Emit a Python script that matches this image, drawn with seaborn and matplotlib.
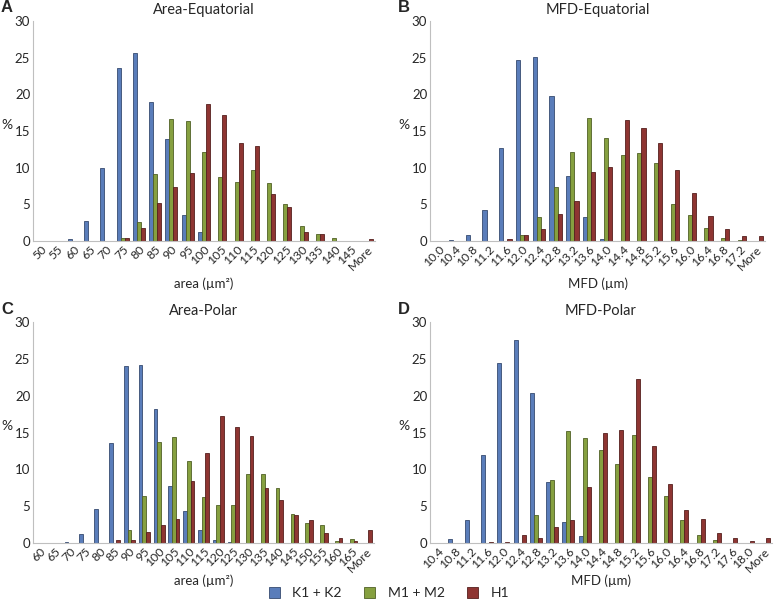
import numpy as np
import pandas as pd
import matplotlib
matplotlib.use("Agg")
import matplotlib.pyplot as plt
import matplotlib.colors as mcolors
from matplotlib.patches import Patch
import seaborn as sns

groups = ["K1 + K2", "M1 + M2", "H1"]
colors = ["#5A7DBA", "#86A040", "#8E3532"]

# Panel A: Area - Equatorial
cat_a = [str(v) for v in range(50, 150, 5)] + ["More"]
a_k = [0, 0, 0.3, 2.7, 9.9, 23.6, 25.7, 19.0, 13.9, 3.6, 1.2, 0, 0, 0, 0, 0, 0, 0, 0, 0, 0]
a_m = [0, 0, 0, 0, 0, 0.4, 2.6, 9.1, 16.6, 16.4, 12.1, 8.7, 8.0, 9.7, 7.9, 5.0, 2.0, 1.0, 0.4, 0, 0]
a_h = [0, 0, 0, 0, 0, 0.4, 1.8, 5.2, 7.4, 9.3, 18.7, 17.2, 13.4, 13.0, 6.4, 4.7, 1.2, 0.9, 0, 0, 0.3]

# Panel B: MFD - Equatorial
cat_b = ["10.0", "10.4", "10.8", "11.2", "11.6", "12.0", "12.4", "12.8", "13.2", "13.6",
         "14.0", "14.4", "14.8", "15.2", "15.6", "16.0", "16.4", "16.8", "17.2", "More"]
b_k = [0, 0.1, 0.8, 4.2, 12.7, 24.7, 25.1, 19.8, 8.9, 3.3, 0.3, 0, 0, 0, 0, 0, 0, 0, 0, 0]
b_m = [0, 0, 0, 0, 0, 0.8, 3.3, 7.4, 12.1, 16.8, 14.0, 11.7, 12.0, 10.6, 5.0, 3.6, 1.8, 0.4, 0.1, 0]
b_h = [0, 0, 0, 0, 0.25, 0.8, 1.7, 3.7, 5.5, 9.4, 10.1, 16.5, 15.4, 13.3, 9.7, 6.5, 3.4, 1.6, 0.7, 0.7]

# Panel C: Area - Polar
cat_c = [str(v) for v in range(60, 170, 5)] + ["More"]
c_k = [0, 0, 0.1, 1.2, 4.6, 13.6, 24.0, 24.2, 18.2, 7.8, 4.3, 1.7, 0.35, 0.1, 0, 0, 0, 0, 0, 0, 0, 0, 0]
c_m = [0, 0, 0, 0, 0, 0, 1.8, 6.4, 13.7, 14.4, 11.1, 6.2, 5.1, 5.2, 9.4, 9.4, 7.4, 4.0, 2.7, 2.5, 0.3, 0.6, 0]
c_h = [0, 0, 0, 0, 0, 0.4, 0.4, 1.5, 2.4, 3.3, 8.4, 12.2, 17.3, 15.8, 14.5, 7.5, 5.8, 3.8, 3.1, 1.3, 0.7, 0.3, 1.8]

# Panel D: MFD - Polar
cat_d = ["10.4", "10.8", "11.2", "11.6", "12.0", "12.4", "12.8", "13.2", "13.6", "14.0",
         "14.4", "14.8", "15.2", "15.6", "16.0", "16.4", "16.8", "17.2", "17.6", "18.0", "More"]
d_k = [0, 0.6, 3.1, 12.0, 24.5, 27.6, 20.4, 8.3, 2.8, 0.9, 0, 0, 0, 0, 0, 0, 0, 0, 0, 0, 0]
d_m = [0, 0, 0, 0, 0, 0, 3.8, 8.5, 15.2, 14.3, 12.6, 10.7, 14.6, 9.0, 6.4, 3.1, 1.1, 0.45, 0, 0, 0]
d_h = [0, 0, 0, 0.2, 0.2, 1.1, 0.7, 2.2, 3.1, 7.6, 15.0, 15.4, 22.3, 13.2, 8.0, 4.5, 3.2, 1.4, 0.7, 0.3, 0.7]

panels = [
    ("A", "Area-Equatorial", "area (µm²)", cat_a, [a_k, a_m, a_h], [33, 21, 342, 220], 4),
    ("B", "MFD-Equatorial", "MFD (µm)", cat_b, [b_k, b_m, b_h], [430, 21, 335, 220], 4),
    ("C", "Area-Polar", "area (µm²)", cat_c, [c_k, c_m, c_h], [33, 322, 341, 221], 0.5),
    ("D", "MFD-Polar", "MFD (µm)", cat_d, [d_k, d_m, d_h], [430, 322, 342, 221], 0.5),
]

sns.set_theme(style="white")
plt.rcParams["font.family"] = ["Lato", "DejaVu Sans"]

W, H = 778, 605
fig = plt.figure(figsize=(W / 100, H / 100), dpi=100)

def darker(c, f=0.6):
    r, g, b = mcolors.to_rgb(c)
    return (r * f, g * f, b * f)

for letter, title, xlabel, cats, series, (px, py, pw, ph), lpad in panels:
    ax = fig.add_axes([px / W, 1 - (py + ph) / H, pw / W, ph / H])
    rows = []
    for g, vals in zip(groups, series):
        for c, v in zip(cats, vals):
            rows.append({"cat": c, "group": g, "val": v})
    df = pd.DataFrame(rows)
    sns.barplot(data=df, x="cat", y="val", hue="group", order=cats, hue_order=groups,
                palette=colors, width=0.74, ax=ax, legend=False, saturation=1)
    for p in ax.patches:
        p.set_edgecolor(darker(p.get_facecolor()))
        p.set_linewidth(0.6)
    ax.set_ylim(0, 30)
    ax.set_yticks(range(0, 31, 5))
    ax.set_xlim(-0.5, len(cats) - 0.5)
    ax.tick_params(axis="y", labelsize=9.5, length=0, pad=2)
    ax.tick_params(axis="x", labelsize=8.8, length=0, pad=2)
    plt.setp(ax.get_xticklabels(), rotation=45, ha="right", rotation_mode="anchor")
    for s in ["top", "right"]:
        ax.spines[s].set_visible(False)
    for s in ["left", "bottom"]:
        ax.spines[s].set_color("#BFBFBF")
        ax.spines[s].set_linewidth(0.8)
    ax.set_ylabel("")
    ax.set_xlabel(xlabel, fontsize=9.5, labelpad=lpad)
    ax.set_title(title, fontsize=10.5, pad=5)
    fig.text((px - 32) / W, 1 - (py - 13) / H, letter, fontsize=12, fontweight="bold",
             ha="left", va="center", family=["Liberation Sans", "DejaVu Sans"])
    fig.text((px - 26) / W, 1 - (py + 104) / H, "%", fontsize=10, ha="center", va="center")

handles = [Patch(facecolor=c, edgecolor=darker(c), linewidth=0.6) for c in colors]
fig.legend(handles, groups, loc="center", bbox_to_anchor=(0.5, 1 - 593 / H), ncol=3,
           frameon=False, fontsize=10, handlelength=0.8, handleheight=0.8,
           columnspacing=1.6, handletextpad=0.9)

fig.savefig("out.png", dpi=100)
